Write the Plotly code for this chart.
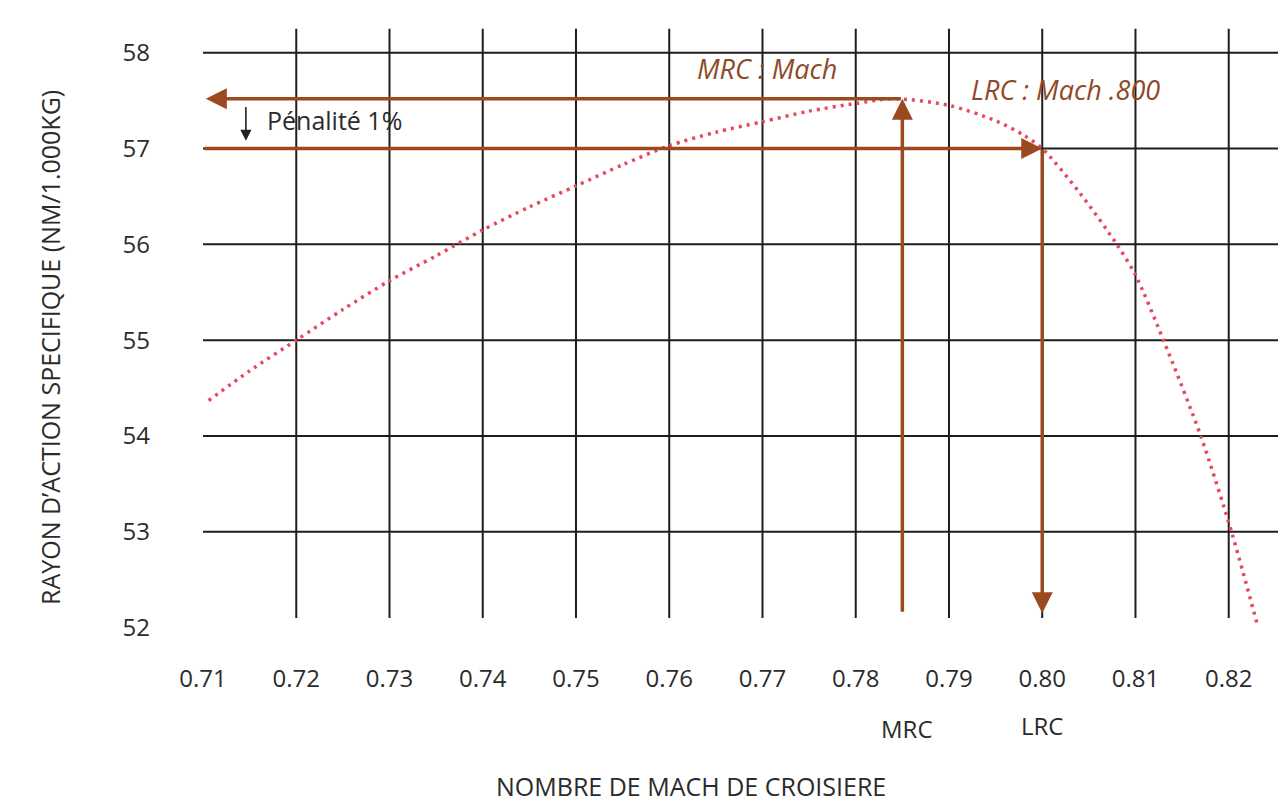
import plotly.graph_objects as go

# ---- data ----
mach = [0.7106, 0.715, 0.72, 0.725, 0.73, 0.735, 0.74, 0.745, 0.75, 0.755, 0.76, 0.765,
        0.77, 0.775, 0.78, 0.784, 0.79, 0.795, 0.798, 0.80, 0.804, 0.808, 0.81, 0.813,
        0.817, 0.8203, 0.8231]
specific_range = [54.37, 54.68, 55.0, 55.32, 55.62, 55.88, 56.15, 56.39, 56.61, 56.83, 57.03, 57.17,
                  57.28, 57.39, 57.47, 57.52, 57.45, 57.29, 57.14, 57.0, 56.54, 56.0, 55.68, 55.0,
                  54.0, 53.0, 52.02]

x_tick_vals = [0.71, 0.72, 0.73, 0.74, 0.75, 0.76, 0.77, 0.78, 0.79, 0.80, 0.81, 0.82]
x_tick_text = ["0.71", "0.72", "0.73", "0.74", "0.75", "0.76", "0.77", "0.78", "0.79", "0.80", "0.81", "0.82"]
y_tick_vals = [52, 53, 54, 55, 56, 57, 58]
x_grid = [0.72, 0.73, 0.74, 0.75, 0.76, 0.77, 0.78, 0.79, 0.80, 0.81, 0.82]
y_grid = [53, 54, 55, 56, 57, 58]

mrc_mach, mrc_value = 0.785, 57.52
lrc_mach, lrc_value = 0.80, 57.0
arrow_bottom = 52.15
x_range = [0.71, 0.827]
y_range = [51.85, 58.31]

BROWN = "#9a4a1e"
TEXT_BROWN = "#8e4a28"
RED = "#e9475f"
GRID = "#1e1e1e"
TXT = "#2b2b2b"
FONT = "Open Sans"

fig = go.Figure()

# grid
shapes = []
for gx in x_grid:
    shapes.append(dict(type="line", xref="x", yref="y", x0=gx, x1=gx, y0=52.1, y1=58.25,
                       line=dict(color=GRID, width=2), layer="below"))
for gy in y_grid:
    shapes.append(dict(type="line", xref="x", yref="y", x0=x_range[0], x1=x_range[1], y0=gy, y1=gy,
                       line=dict(color=GRID, width=2), layer="below"))

# curve
fig.add_trace(go.Scatter(x=mach, y=specific_range, mode="lines",
                         line=dict(color=RED, width=3.5, dash="3px,5px", shape="spline", smoothing=0.8),
                         hoverinfo="skip", showlegend=False))

annotations = []

def arrow(x_head, y_head, x_tail, y_tail, color=BROWN, width=3.5, size=1.2):
    annotations.append(dict(x=x_head, y=y_head, ax=x_tail, ay=y_tail, xref="x", yref="y",
                            axref="x", ayref="y", text="", showarrow=True, arrowhead=2,
                            arrowsize=size, arrowwidth=width, arrowcolor=color, standoff=0))

# MRC horizontal (to the left) and vertical (up)
arrow(0.7103, mrc_value, mrc_mach, mrc_value)
arrow(mrc_mach, mrc_value, mrc_mach, arrow_bottom)
# LRC horizontal (to the right) and vertical (down)
arrow(lrc_mach, lrc_value, 0.71, lrc_value)
arrow(lrc_mach, arrow_bottom, lrc_mach, lrc_value)
# penalty small arrow
arrow(0.7146, 57.08, 0.7146, 57.45, color="#222", width=1.6, size=1.4)

annotations += [
    dict(x=0.7166, y=57.3, xref="x", yref="y", text="Pénalité 1%", showarrow=False,
         xanchor="left", yanchor="middle", font=dict(family=FONT, size=25, color=TXT)),
    dict(x=0.7705, y=57.83, xref="x", yref="y", text="<i>MRC : Mach</i>", showarrow=False,
         xanchor="center", yanchor="middle", font=dict(family=FONT, size=27, color=TEXT_BROWN)),
    dict(x=0.8025, y=57.62, xref="x", yref="y", text="<i>LRC : Mach .800</i>", showarrow=False,
         xanchor="center", yanchor="middle", font=dict(family=FONT, size=27, color=TEXT_BROWN)),
    dict(x=0.7855, y=720, xref="x", yref="paper", text="MRC", showarrow=False,
         xanchor="center", yanchor="middle", font=dict(family=FONT, size=24, color=TXT)),
    dict(x=0.80, y=717, xref="x", yref="paper", text="LRC", showarrow=False,
         xanchor="center", yanchor="middle", font=dict(family=FONT, size=24, color=TXT)),
]
# convert pixel y to paper for bottom labels
plot_top, plot_bottom = 15, 634
for a in annotations:
    if a.get("yref") == "paper":
        a["y"] = (plot_bottom - a["y"]) / (plot_bottom - plot_top)

annotations += [
    dict(x=(683 - 195) / (1286 - 195), y=(plot_bottom - 778) / (plot_bottom - plot_top),
         xref="paper", yref="paper", text="NOMBRE DE MACH DE CROISIERE", showarrow=False,
         xanchor="center", yanchor="middle", font=dict(family=FONT, size=25, color=TXT)),
    dict(x=(42 - 195) / (1286 - 195), y=(plot_bottom - 340) / (plot_bottom - plot_top),
         xref="paper", yref="paper", text="RAYON D’ACTION SPECIFIQUE (NM/1.000KG)", showarrow=False,
         xanchor="center", yanchor="middle",
         textangle=-90, font=dict(family=FONT, size=25, color=TXT)),
]

fig.update_layout(
    width=1286, height=807,
    margin=dict(l=195, r=0, t=15, b=807 - 634),
    paper_bgcolor="white", plot_bgcolor="white",
    shapes=shapes, annotations=annotations,
    xaxis=dict(range=x_range, tickvals=x_tick_vals, ticktext=x_tick_text, showgrid=False,
               zeroline=False, showline=False, ticks="", ticklabelstandoff=20,
               tickfont=dict(family=FONT, size=24, color=TXT)),
    yaxis=dict(range=y_range, tickvals=y_tick_vals, showgrid=False, zeroline=False,
               showline=False, ticks="", ticklabelstandoff=52,
               tickfont=dict(family=FONT, size=24, color=TXT)),
)

fig.write_html("out.html")
